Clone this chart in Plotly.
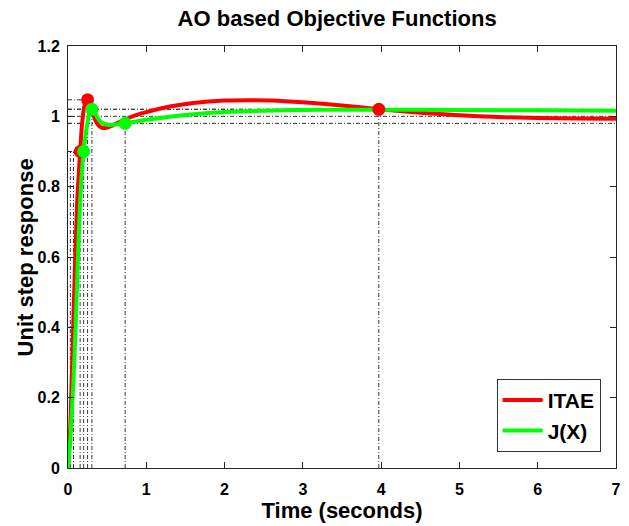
import plotly.graph_objects as go

# Step response of the ITAE-tuned loop
itae_t = [0, 0.03, 0.06, 0.09, 0.12, 0.155, 0.18, 0.21, 0.25, 0.29, 0.33, 0.38, 0.43, 0.48,
          0.55, 0.65, 0.8, 1.0, 1.3, 1.6, 2.0, 2.3, 2.6, 3.0, 3.5, 3.97, 4.5, 5.0, 5.5, 6.0, 6.5, 7.0]
itae_y = [0, 0.12, 0.35, 0.58, 0.77, 0.90, 0.98, 1.03, 1.047, 1.035, 1.0, 0.977, 0.968, 0.967,
          0.972, 0.983, 0.998, 1.012, 1.028, 1.038, 1.045, 1.046, 1.045, 1.040, 1.031, 1.020,
          1.010, 1.003, 0.998, 0.995, 0.994, 0.993]

# Step response of the J(X)-tuned loop
jx_t = [0, 0.03, 0.07, 0.1, 0.14, 0.17, 0.2, 0.24, 0.27, 0.305, 0.34, 0.38, 0.43, 0.5,
        0.58, 0.65, 0.73, 0.85, 1.0, 1.3, 1.6, 2.0, 2.5, 3.0, 3.5, 4.0, 5.0, 6.0, 7.0]
jx_y = [0, 0.08, 0.25, 0.42, 0.68, 0.82, 0.90, 0.97, 1.005, 1.02, 1.012, 0.995, 0.982, 0.976,
        0.976, 0.978, 0.980, 0.985, 0.990, 0.999, 1.006, 1.012, 1.016, 1.018, 1.019, 1.019,
        1.018, 1.017, 1.016]

# Marked characteristic points (rise, peak, settling)
itae_mark_t = [0.155, 0.25, 3.97]
itae_mark_y = [0.90, 1.047, 1.020]
jx_mark_t = [0.20, 0.305, 0.73]
jx_mark_y = [0.90, 1.020, 0.980]
rise_start_t = [0.03, 0.07]
rise_level = 0.90
band_levels = [0.98, 1.00, 1.02]

x_ticks = [0, 1, 2, 3, 4, 5, 6, 7]
y_ticks = [0, 0.2, 0.4, 0.6, 0.8, 1.0, 1.2]
y_tick_text = ["0", "0.2", "0.4", "0.6", "0.8", "1", "1.2"]

FONT = "Liberation Sans, Arial, Helvetica, sans-serif"
guide = dict(color="#3a3a3a", width=1, dash="4px,2px,1px,2px")

fig = go.Figure()

# Guide lines: verticals to the time axis and horizontals to the response axis
gx, gy = [], []
for t, y in zip(itae_mark_t + jx_mark_t, itae_mark_y + jx_mark_y):
    gx += [t, t, None, 0, t, None]
    gy += [0, y, None, y, y, None]
for t in rise_start_t:
    gx += [t, t, None]
    gy += [0, rise_level, None]
for lv in band_levels:
    gx += [0, 7, None]
    gy += [lv, lv, None]
fig.add_trace(go.Scatter(x=gx, y=gy, mode="lines", line=guide,
                         showlegend=False, hoverinfo="skip"))

fig.add_trace(go.Scatter(x=itae_t, y=itae_y, mode="lines", name="ITAE",
                         line=dict(color="#ff0000", width=4, shape="spline", smoothing=0.6)))
fig.add_trace(go.Scatter(x=jx_t, y=jx_y, mode="lines", name="J(X)",
                         line=dict(color="#00ff00", width=4, shape="spline", smoothing=0.6)))
fig.add_trace(go.Scatter(x=itae_mark_t, y=itae_mark_y, mode="markers", showlegend=False,
                         marker=dict(color="#ff0000", size=13)))
fig.add_trace(go.Scatter(x=jx_mark_t, y=jx_mark_y, mode="markers", showlegend=False,
                         marker=dict(color="#00ff00", size=13)))

axis_common = dict(showgrid=False, zeroline=False, showline=True, linecolor="#262626",
                   linewidth=1, mirror="ticks", ticks="inside", ticklen=6,
                   tickcolor="#262626",
                   tickfont=dict(family=FONT, size=16, color="black", weight="bold"))

fig.update_layout(
    width=629, height=526,
    margin=dict(l=68, r=8, t=46, b=58),
    paper_bgcolor="white", plot_bgcolor="white",
    font=dict(family=FONT, color="black"),
    title=dict(text="AO based Objective Functions", x=0.536, xref="container",
               xanchor="center", y=0.966, yref="container", yanchor="middle",
               font=dict(family=FONT, size=22, color="black", weight="bold")),
    xaxis=dict(range=[0, 7], tickvals=x_ticks, ticklabelstandoff=7,
               title=dict(text="Time (seconds)",
                          font=dict(family=FONT, size=22, weight="bold"), standoff=0),
               **axis_common),
    yaxis=dict(range=[0, 1.2], tickvals=y_ticks, ticktext=y_tick_text, ticklabelstandoff=4,
               **axis_common),
    annotations=[dict(text="Unit step response", textangle=-90, showarrow=False,
                      xref="paper", yref="paper", x=-43 / 553, y=0.5,
                      xanchor="center", yanchor="middle",
                      font=dict(family=FONT, size=22, color="black", weight="bold"))],
    legend=dict(x=0.972, y=0.038, xanchor="right", yanchor="bottom",
                bgcolor="white", bordercolor="#333333", borderwidth=1,
                font=dict(family=FONT, size=21, color="black", weight="bold"),
                itemwidth=40, tracegroupgap=0),
    showlegend=True,
)

fig.write_html("out.html")
